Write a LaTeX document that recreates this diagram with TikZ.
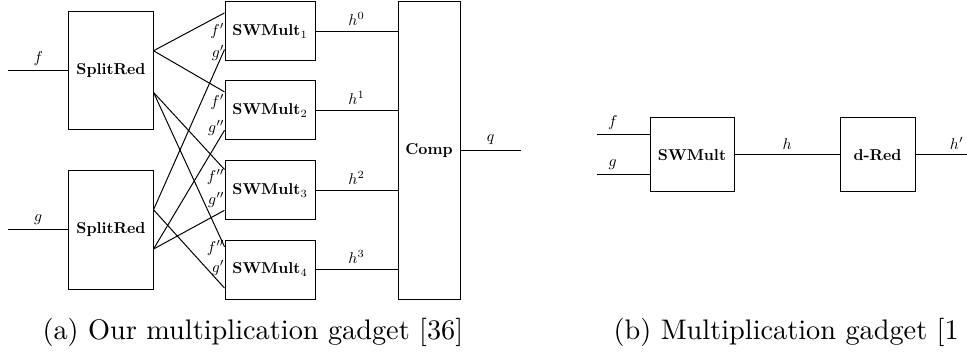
\documentclass[tikz,border=0pt]{standalone}
\usepackage{amsmath}
\usepackage{graphicx}
\usepackage{tikz}
\usetikzlibrary{positioning,calc}

% verkleinerte Beschriftung (Form der 10pt-Schrift)
\newcommand{\smtxt}[1]{\scalebox{0.556}{#1}}

\begin{document}
\begin{tikzpicture}[x=0.3534pt, y=-0.3534pt, every node/.style={inner sep=1.9pt},
    blk/.style={draw, rectangle, inner sep=0pt, line width=0.35pt},
    wire/.style={line width=0.35pt},
    port/.style={anchor=east, inner sep=0.4pt},
    capt/.style={font=\normalsize, anchor=base west, inner sep=0pt}
  ]
    \useasboundingbox (0,0) rectangle (967,354);

    % Bloecke (a)
    \node[blk, minimum width=29.7pt, minimum height=41.7pt] (sr1) at (111,71) {\smtxt{\textbf{SplitRed}}};
    \node[blk, minimum width=29.7pt, minimum height=41.7pt] (sr2) at (111,230) {\smtxt{\textbf{SplitRed}}};
    \node[blk, minimum width=31.8pt, minimum height=20.85pt] (sw1) at (270,31.5) {\smtxt{\textbf{SWMult}$_1$}};
    \node[blk, minimum width=31.8pt, minimum height=20.85pt] (sw2) at (270,110.5) {\smtxt{\textbf{SWMult}$_2$}};
    \node[blk, minimum width=31.8pt, minimum height=20.85pt] (sw3) at (270,190.5) {\smtxt{\textbf{SWMult}$_3$}};
    \node[blk, minimum width=31.8pt, minimum height=20.85pt] (sw4) at (270,269.5) {\smtxt{\textbf{SWMult}$_4$}};
    \node[blk, minimum width=21.9pt, minimum height=105pt] (comp) at (429,150.5) {\smtxt{\textbf{Comp}}};

    % Bloecke (b)
    \node[blk, minimum width=29.7pt, minimum height=26.15pt] (swm) at (692,155) {\smtxt{\textbf{SWMult}}};
    \node[blk, minimum width=26.5pt, minimum height=26.15pt] (dred) at (877.5,155) {\smtxt{\textbf{d-Red}}};

    % freie Enden
    \coordinate (fin) at (8,71);
    \coordinate (gin) at (8,230);
    \coordinate (qout) at (521,150.5);
    \coordinate (fin2) at (597,135);
    \coordinate (gin2) at (597,175);
    \coordinate (hout) at (967,155);

    % Anschluesse
    \coordinate (sr1a) at ($(sr1.north east)!0.33!(sr1.south east)$);
    \coordinate (sr1b) at ($(sr1.north east)!0.68!(sr1.south east)$);
    \coordinate (sr2a) at ($(sr2.north east)!0.33!(sr2.south east)$);
    \coordinate (sr2b) at ($(sr2.north east)!0.66!(sr2.south east)$);
    \coordinate (sw1f) at ($(sw1.north west)!0.19!(sw1.south west)$);
    \coordinate (sw1g) at ($(sw1.north west)!0.80!(sw1.south west)$);
    \coordinate (sw2f) at ($(sw2.north west)!0.19!(sw2.south west)$);
    \coordinate (sw2g) at ($(sw2.north west)!0.83!(sw2.south west)$);
    \coordinate (sw3f) at ($(sw3.north west)!0.15!(sw3.south west)$);
    \coordinate (sw3g) at ($(sw3.north west)!0.83!(sw3.south west)$);
    \coordinate (sw4f) at ($(sw4.north west)!0.12!(sw4.south west)$);
    \coordinate (sw4g) at ($(sw4.north west)!0.81!(sw4.south west)$);
    \coordinate (swmf) at (swm.west |- fin2);
    \coordinate (swmg) at (swm.west |- gin2);

    % Eingaenge
    \draw[wire] (fin) -- (fin -| sr1.west) node[midway, above] {\smtxt{$f$}};
    \draw[wire] (gin) -- (gin -| sr2.west) node[midway, above] {\smtxt{$g$}};

    % Verteilung
    \draw[wire] (sr1a) -- (sw1f);
    \draw[wire] (sr1a) -- (sw2f);
    \draw[wire] (sr1b) -- (sw3f);
    \draw[wire] (sr1b) -- (sw4f);
    \draw[wire] (sr2a) -- (sw1g);
    \draw[wire] (sr2a) -- (sw4g);
    \draw[wire] (sr2b) -- (sw2g);
    \draw[wire] (sr2b) -- (sw3g);

    % Eingangsnamen
    \node[port] (l1f) at (226,31) {\smtxt{$f'$}};
    \node[port] (l1g) at (226,53) {\smtxt{$g'$}};
    \node[port] (l2f) at (226,102) {\smtxt{$f'$}};
    \node[port] (l2g) at (226,128) {\smtxt{$g''$}};
    \node[port] (l3f) at (226,177) {\smtxt{$f''$}};
    \node[port] (l3g) at (226,200) {\smtxt{$g''$}};
    \node[port] (l4f) at (226,248) {\smtxt{$f''$}};
    \node[port] (l4g) at (226,268) {\smtxt{$g'$}};

    % Teilprodukte
    \foreach \i/\e in {1/0,2/1,3/2,4/3}
      \draw[wire] (sw\i.east) -- (sw\i.east -| comp.west) node[midway, above] {\smtxt{$h^{\e}$}};
    \draw[wire] (comp.east |- qout) -- (qout) node[midway, above] {\smtxt{$q$}};

    % Teil (b)
    \draw[wire] (fin2) -- (swmf) node[pos=0.3, above] {\smtxt{$f$}};
    \draw[wire] (gin2) -- (swmg) node[pos=0.3, above] {\smtxt{$g$}};
    \draw[wire] (swm) -- (dred) node[midway, above] {\smtxt{$h$}};
    \draw[wire] (dred) -- (hout) node[pos=0.8, above] {\smtxt{$h'$}};

    % Unterschriften
    \node[capt] (capa) at (42,340) {(a) Our multiplication gadget [36]};
    \node[capt] (capb) at (613,340) {(b) Multiplication gadget [1};
  \end{tikzpicture}
\end{document}
